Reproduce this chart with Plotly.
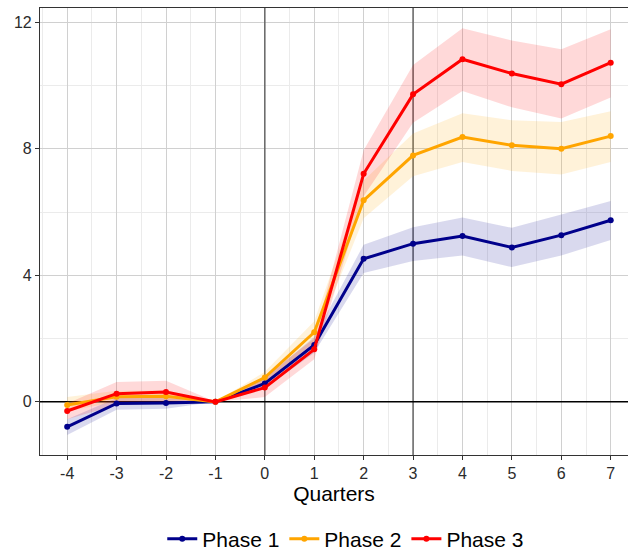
import plotly.graph_objects as go

quarters = [-4, -3, -2, -1, 0, 1, 2, 3, 4, 5, 6, 7]

phase1 = [-0.79, -0.05, -0.04, 0.0, 0.58, 1.80, 4.52, 5.00, 5.24, 4.88, 5.27, 5.74]
phase1_lo = [-1.05, -0.25, -0.22, 0.0, 0.42, 1.55, 4.07, 4.45, 4.63, 4.26, 4.63, 5.12]
phase1_hi = [-0.55, 0.12, 0.12, 0.0, 0.75, 2.05, 4.97, 5.52, 5.83, 5.50, 5.92, 6.35]

phase2 = [-0.10, 0.16, 0.18, 0.0, 0.77, 2.20, 6.37, 7.79, 8.37, 8.11, 8.00, 8.40]
phase2_lo = [-0.30, 0.00, 0.02, 0.0, 0.60, 1.90, 5.80, 7.13, 7.58, 7.30, 7.19, 7.58]
phase2_hi = [0.15, 0.35, 0.36, 0.0, 0.95, 2.55, 7.00, 8.48, 9.12, 8.90, 8.85, 9.19]

phase3 = [-0.29, 0.26, 0.31, 0.0, 0.45, 1.66, 7.21, 9.72, 10.83, 10.38, 10.04, 10.72]
phase3_lo = [-0.55, -0.10, -0.05, 0.0, 0.15, 1.35, 6.50, 8.82, 9.83, 9.31, 8.96, 9.62]
phase3_hi = [-0.05, 0.63, 0.67, 0.0, 0.80, 2.00, 7.95, 10.65, 11.81, 11.42, 11.15, 11.78]

event_lines = [0, 3]
y_range = [-1.68, 12.45]

series = [
    ("Phase 1", phase1, phase1_lo, phase1_hi, "#00008B", "rgba(0,0,139,0.15)"),
    ("Phase 2", phase2, phase2_lo, phase2_hi, "#FFA500", "rgba(255,165,0,0.15)"),
    ("Phase 3", phase3, phase3_lo, phase3_hi, "#FF0000", "rgba(255,0,0,0.15)"),
]

fig = go.Figure()
for xv in event_lines:
    fig.add_trace(go.Scatter(x=[xv, xv], y=y_range, mode="lines",
                             line=dict(color="#666666", width=1.5),
                             hoverinfo="skip", showlegend=False))
fig.add_trace(go.Scatter(x=[-4.6, 7.6], y=[0, 0], mode="lines",
                         line=dict(color="black", width=1.5),
                         hoverinfo="skip", showlegend=False))
for name, y, lo, hi, col, fill in series:
    fig.add_trace(go.Scatter(x=quarters + quarters[::-1], y=hi + lo[::-1],
                             fill="toself", fillcolor=fill, line=dict(width=0),
                             mode="lines", hoverinfo="skip", showlegend=False))
for name, y, lo, hi, col, fill in series:
    fig.add_trace(go.Scatter(x=quarters, y=y, name=name, mode="lines+markers",
                             line=dict(color=col, width=3),
                             marker=dict(color=col, size=6)))

font = "Liberation Sans, Arial, sans-serif"
fig.update_layout(
    width=628, height=554,
    margin=dict(l=40, r=0, t=8, b=99),
    paper_bgcolor="white", plot_bgcolor="white",
    font=dict(family=font, color="#333333"),
    showlegend=True,
    legend=dict(orientation="h", x=0.52, xanchor="center",
                yref="container", y=15 / 554, yanchor="middle",
                font=dict(size=21, color="black"),
                traceorder="normal"),
    xaxis=dict(range=[-4.55, 7.35], tickvals=quarters, ticktext=[str(q) for q in quarters],
               showgrid=True, gridcolor="#d0d0d0", gridwidth=1,
               minor=dict(dtick=0.5, tick0=0.5, showgrid=True, gridcolor="#ebebeb", gridwidth=1),
               ticks="outside", ticklen=4, tickcolor="#333333",
               tickfont=dict(size=16, color="#2b2b2b"),
               showline=True, linecolor="#333333", linewidth=1.2, mirror=True,
               zeroline=False, automargin=False,
               title=dict(text="Quarters", font=dict(size=21, color="black"), standoff=0)),
    yaxis=dict(range=y_range, tickvals=[0, 4, 8, 12],
               showgrid=True, gridcolor="#d0d0d0", gridwidth=1,
               minor=dict(dtick=2, showgrid=True, gridcolor="#ebebeb", gridwidth=1),
               ticks="outside", ticklen=4, tickcolor="#333333",
               tickfont=dict(size=16, color="#2b2b2b"),
               showline=True, linecolor="#333333", linewidth=1.2,
               zeroline=False, automargin=False),
)

fig.write_html("out.html", config={"displayModeBar": False},
               post_script="document.body.style.margin='0';document.body.style.overflow='hidden';")
